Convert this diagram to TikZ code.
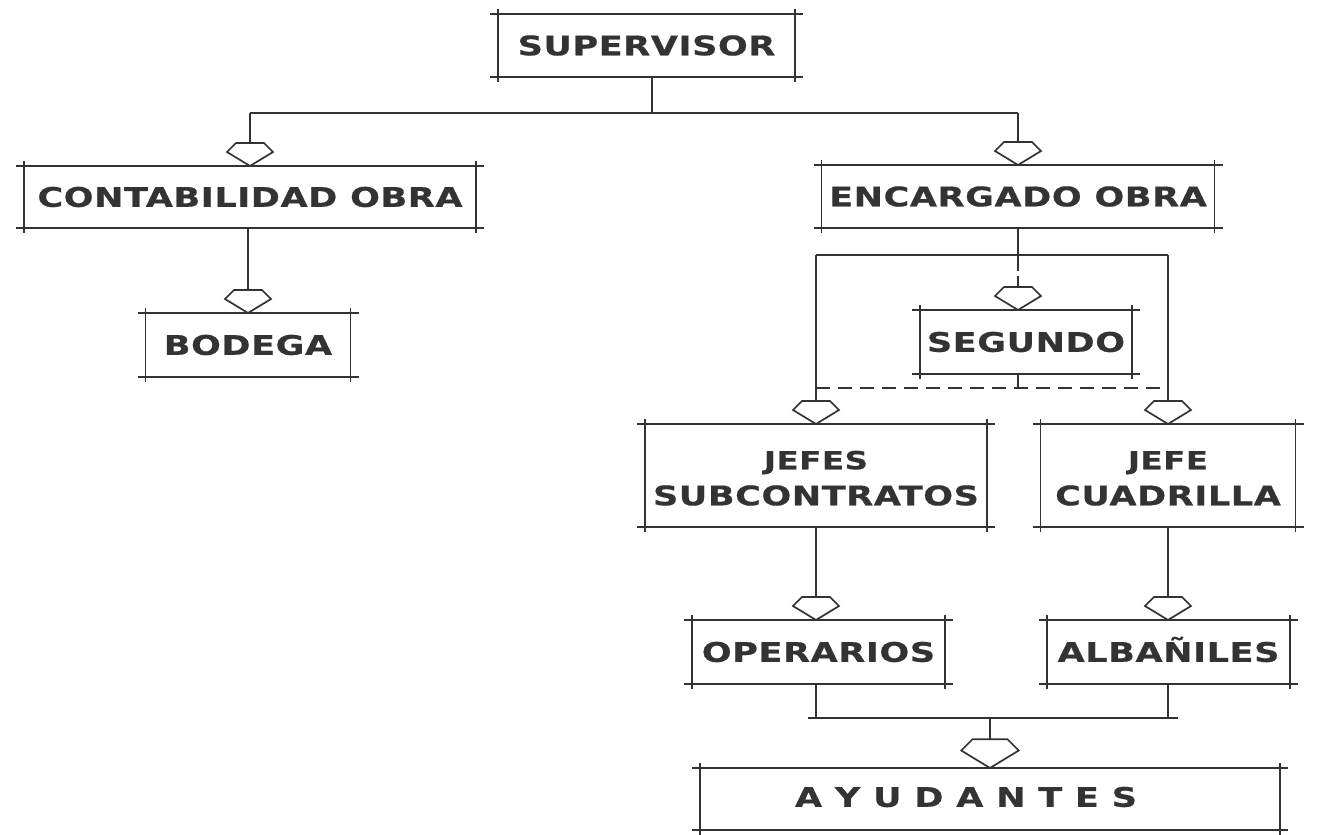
\documentclass[tikz,border=0pt]{standalone}
\usepackage{fontspec}
\newfontfamily\lab[FakeStretch=1.3,LetterSpace=2,FakeBold=0.6]{DejaVu Sans Bold}
\definecolor{ink}{HTML}{333333}
\tikzset{
  frame/.style={draw=ink, line width=1.7pt},
  box/.style={inner sep=0pt, outer sep=0pt, text=ink, align=center,
    font=\lab\fontsize{27}{36}\selectfont},
  harrow/.pic={\draw[frame, fill=white, line join=miter]
    (-14pt,23pt) -- (14pt,23pt) -- (23pt,14pt) -- (0pt,0pt) -- (-23pt,14pt) -- cycle;}
}
\newcommand\drawframe[1]{%
  \draw[frame] ([xshift=-8pt]#1.north west) -- ([xshift=8pt]#1.north east)
               ([xshift=-8pt]#1.south west) -- ([xshift=8pt]#1.south east)
               ([yshift=5pt]#1.north west) -- ([yshift=-5pt]#1.south west)
               ([yshift=5pt]#1.north east) -- ([yshift=-5pt]#1.south east);}
\begin{document}
\begin{tikzpicture}[x=1pt,y=-1pt]
\useasboundingbox (0,0) rectangle (1323,835);
% boxes
\node[box, minimum width=297pt, minimum height=63pt] (sup) at (646.5,45.5) {SUPERVISOR};
\node[box, minimum width=452pt, minimum height=62pt] (cont) at (250,197) {CONTABILIDAD OBRA};
\node[box, minimum width=205pt, minimum height=64pt] (bod) at (248,345) {BODEGA};
\node[box, minimum width=393pt, minimum height=63pt] (enc) at (1018,196.5) {ENCARGADO OBRA};
\node[box, minimum width=212pt, minimum height=64pt] (seg) at (1026,342) {SEGUNDO};
\node[box, minimum width=342pt, minimum height=103pt] (jefes) at (816,475.5)
  {{\fontsize{25}{36}\selectfont\rule{0pt}{24pt}JEFES}\\SUBCONTRATOS};
\node[box, minimum width=255pt, minimum height=103pt] (jefe) at (1168,475.5)
  {{\fontsize{25}{36}\selectfont\rule{0pt}{24pt}JEFE}\\CUADRILLA};
\node[box, minimum width=253pt, minimum height=64pt] (oper) at (818.5,652) {OPERARIOS};
\node[box, minimum width=243pt, minimum height=64pt, text height=19.7pt, text depth=0pt] (alb) at (1168.5,652) {ALBAÑILES};
\node[box, minimum width=580pt, minimum height=62pt] (ayu) at (990,799) {};
\node[box] (ayut) at (966,797) {A Y U D A N T E S};
\foreach \n in {sup,cont,bod,enc,seg,jefes,jefe,oper,alb,ayu} {\drawframe{\n}}
% supervisor bus
\coordinate (b1) at (652,113);
\draw[frame] (sup.south -| b1) -- (b1);
\draw[frame] (cont.north |- b1) -- (enc.north |- b1);
\draw[frame] (cont.north |- b1) -- ([yshift=23pt]cont.north);
\pic at (cont.north) {harrow};
\draw[frame] (enc.north |- b1) -- ([yshift=23pt]enc.north);
\pic at (enc.north) {harrow};
% contabilidad -> bodega
\draw[frame] (cont.south -| bod.north) -- ([yshift=23pt]bod.north);
\pic at (bod.north) {harrow};
% encargado bus
\coordinate (b2) at (1018,255);
\draw[frame] (enc.south) -- (b2);
\draw[frame] (jefes.north |- b2) -- (jefe.north |- b2);
\draw[frame] (jefes.north |- b2) -- ([yshift=23pt]jefes.north);
\draw[frame] (jefe.north |- b2) -- ([yshift=23pt]jefe.north);
\draw[frame, dash pattern=on 16pt off 5pt] (b2) -- ([yshift=23pt]seg.north -| b2);
\pic at (seg.north -| b2) {harrow};
% segundo dashed link
\coordinate (b3) at (1018,388);
\draw[frame] (seg.south -| b2) -- (b3);
\draw[frame, dash pattern=on 14pt off 8pt] (jefes.north |- b3) -- (jefe.north |- b3);
\pic at (jefes.north) {harrow};
\pic at (jefe.north) {harrow};
% jefes -> operarios, jefe -> albaniles
\draw[frame] (jefes.south) -- ([yshift=23pt]oper.north -| jefes.south);
\pic at (oper.north -| jefes.south) {harrow};
\draw[frame] (jefe.south) -- ([yshift=23pt]alb.north -| jefe.south);
\pic at (alb.north -| jefe.south) {harrow};
% bottom bus
\coordinate (b4) at (990,718);
\draw[frame] (oper.south -| jefes.south) -- (b4 -| jefes.south);
\draw[frame] (alb.south -| jefe.south) -- (b4 -| jefe.south);
\draw[frame] ([xshift=-8pt]b4 -| jefes.south) -- ([xshift=10pt]b4 -| jefe.south);
\draw[frame] (b4) -- ([yshift=28pt]ayu.north);
\pic[scale=1.25] at (ayu.north) {harrow};
\end{tikzpicture}
\end{document}
